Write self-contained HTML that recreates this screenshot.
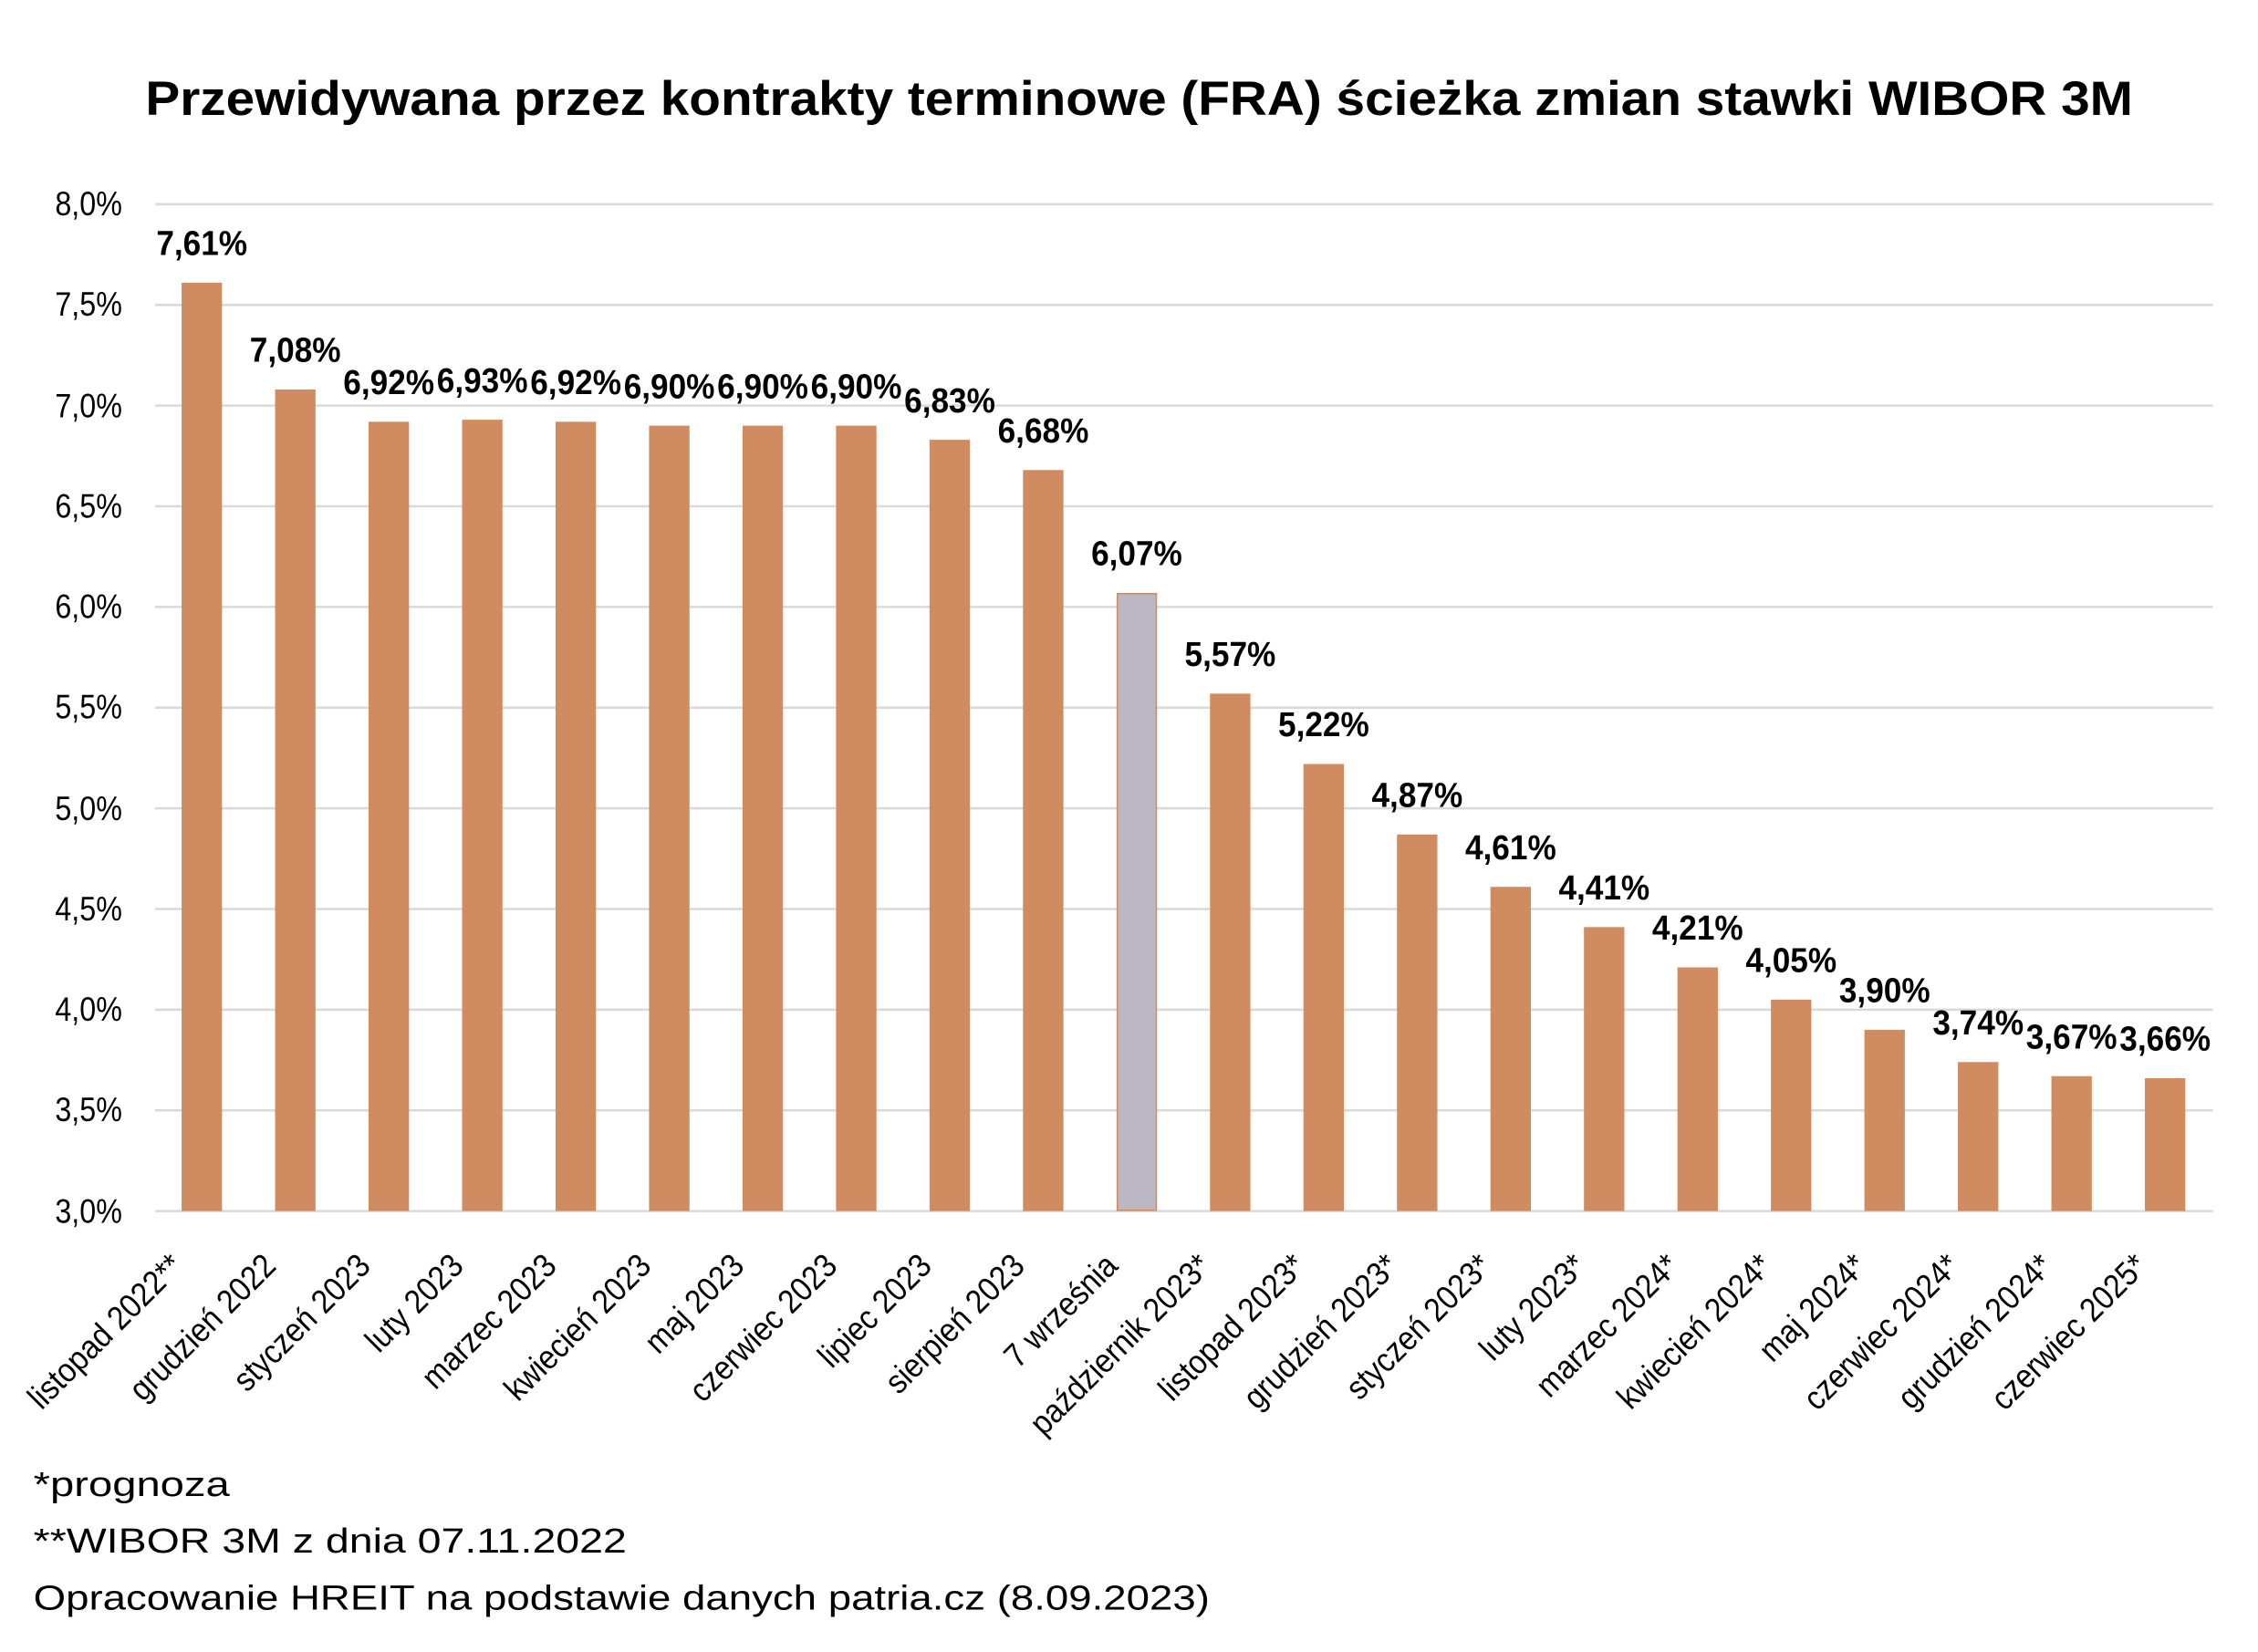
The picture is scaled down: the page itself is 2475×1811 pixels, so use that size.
<!DOCTYPE html>
<html><head><meta charset="utf-8"><style>
html,body{margin:0;padding:0;background:#fff;}
svg{display:block;}
text{font-family:"Liberation Sans","DejaVu Sans",sans-serif;fill:#000;}
.yl{font-size:23px;text-anchor:end;}
.dl{font-size:24px;font-weight:bold;text-anchor:middle;}
.cl{font-size:23px;text-anchor:end;}
.fn{font-size:24px;}
</style></head><body>
<svg width="2475" height="1811" viewBox="0 0 1553 1136.3" preserveAspectRatio="none" xmlns="http://www.w3.org/2000/svg">
<rect width="1553" height="1137" fill="#fff"/>
<text x="100" y="79" font-size="33" font-weight="bold" textLength="1367" lengthAdjust="spacingAndGlyphs">Przewidywana przez kontrakty terminowe (FRA) ścieżka zmian stawki WIBOR 3M</text>
<g stroke="#D9D9D9" stroke-width="1.6">
<line x1="106.6" x2="1522" y1="140.5" y2="140.5"/><line x1="106.6" x2="1522" y1="209.75" y2="209.75"/>
<line x1="106.6" x2="1522" y1="279" y2="279"/><line x1="106.6" x2="1522" y1="348.25" y2="348.25"/>
<line x1="106.6" x2="1522" y1="417.5" y2="417.5"/><line x1="106.6" x2="1522" y1="486.75" y2="486.75"/>
<line x1="106.6" x2="1522" y1="556" y2="556"/><line x1="106.6" x2="1522" y1="625.25" y2="625.25"/>
<line x1="106.6" x2="1522" y1="694.5" y2="694.5"/><line x1="106.6" x2="1522" y1="763.75" y2="763.75"/>
<line x1="106.6" x2="1522" y1="833" y2="833"/>
</g>
<g>
<text class="yl" transform="translate(84,148) scale(0.88,1)">8,0%</text>
<text class="yl" transform="translate(84,217) scale(0.88,1)">7,5%</text>
<text class="yl" transform="translate(84,287) scale(0.88,1)">7,0%</text>
<text class="yl" transform="translate(84,356) scale(0.88,1)">6,5%</text>
<text class="yl" transform="translate(84,425) scale(0.88,1)">6,0%</text>
<text class="yl" transform="translate(84,494) scale(0.88,1)">5,5%</text>
<text class="yl" transform="translate(84,564) scale(0.88,1)">5,0%</text>
<text class="yl" transform="translate(84,633) scale(0.88,1)">4,5%</text>
<text class="yl" transform="translate(84,702) scale(0.88,1)">4,0%</text>
<text class="yl" transform="translate(84,771) scale(0.88,1)">3,5%</text>
<text class="yl" transform="translate(84,841) scale(0.88,1)">3,0%</text>
</g>
<g fill="#D08C60">
<rect x="124.9" y="194.5" width="27.8" height="638.5"/>
<rect x="189.2" y="267.9" width="27.8" height="565.1"/>
<rect x="253.5" y="290.1" width="27.8" height="542.9"/>
<rect x="317.8" y="288.7" width="27.8" height="544.3"/>
<rect x="382.1" y="290.1" width="27.8" height="542.9"/>
<rect x="446.4" y="292.8" width="27.8" height="540.2"/>
<rect x="510.7" y="292.8" width="27.8" height="540.2"/>
<rect x="575.0" y="292.8" width="27.8" height="540.2"/>
<rect x="639.3" y="302.5" width="27.8" height="530.5"/>
<rect x="703.6" y="323.3" width="27.8" height="509.7"/>
<rect x="832.2" y="477.1" width="27.8" height="355.9"/>
<rect x="896.5" y="525.5" width="27.8" height="307.5"/>
<rect x="960.8" y="574.0" width="27.8" height="259.0"/>
<rect x="1025.1" y="610.0" width="27.8" height="223.0"/>
<rect x="1089.4" y="637.7" width="27.8" height="195.3"/>
<rect x="1153.7" y="665.4" width="27.8" height="167.6"/>
<rect x="1218.0" y="687.6" width="27.8" height="145.4"/>
<rect x="1282.3" y="708.3" width="27.8" height="124.7"/>
<rect x="1346.6" y="730.5" width="27.8" height="102.5"/>
<rect x="1410.9" y="740.2" width="27.8" height="92.8"/>
<rect x="1475.2" y="741.6" width="27.8" height="91.4"/>
</g>
<rect x="768.5" y="408.3" width="26.8" height="424.2" fill="#BCB8C3" stroke="#D08C60" stroke-width="1"/>
<g>
<text class="dl" transform="translate(138.8,175.5) scale(0.92,1)">7,61%</text>
<text class="dl" transform="translate(203.1,248.9) scale(0.92,1)">7,08%</text>
<text class="dl" transform="translate(267.4,271.1) scale(0.92,1)">6,92%</text>
<text class="dl" transform="translate(331.7,269.7) scale(0.92,1)">6,93%</text>
<text class="dl" transform="translate(396.0,271.1) scale(0.92,1)">6,92%</text>
<text class="dl" transform="translate(460.3,273.8) scale(0.92,1)">6,90%</text>
<text class="dl" transform="translate(524.6,273.8) scale(0.92,1)">6,90%</text>
<text class="dl" transform="translate(588.9,273.8) scale(0.92,1)">6,90%</text>
<text class="dl" transform="translate(653.2,283.5) scale(0.92,1)">6,83%</text>
<text class="dl" transform="translate(717.5,304.3) scale(0.92,1)">6,68%</text>
<text class="dl" transform="translate(781.8,388.8) scale(0.92,1)">6,07%</text>
<text class="dl" transform="translate(846.1,458.1) scale(0.92,1)">5,57%</text>
<text class="dl" transform="translate(910.4,506.5) scale(0.92,1)">5,22%</text>
<text class="dl" transform="translate(974.7,555.0) scale(0.92,1)">4,87%</text>
<text class="dl" transform="translate(1039.0,591.0) scale(0.92,1)">4,61%</text>
<text class="dl" transform="translate(1103.3,618.7) scale(0.92,1)">4,41%</text>
<text class="dl" transform="translate(1167.6,646.4) scale(0.92,1)">4,21%</text>
<text class="dl" transform="translate(1231.9,668.6) scale(0.92,1)">4,05%</text>
<text class="dl" transform="translate(1296.2,689.3) scale(0.92,1)">3,90%</text>
<text class="dl" transform="translate(1360.5,711.5) scale(0.92,1)">3,74%</text>
<text class="dl" transform="translate(1424.8,721.2) scale(0.92,1)">3,67%</text>
<text class="dl" transform="translate(1489.1,722.6) scale(0.92,1)">3,66%</text>
</g>
<g>
<text class="cl" transform="translate(127,872) rotate(-45) scale(0.9,1)">listopad 2022**</text>
<text class="cl" transform="translate(191,872) rotate(-45) scale(0.9,1)">grudzień 2022</text>
<text class="cl" transform="translate(256,872) rotate(-45) scale(0.9,1)">styczeń 2023</text>
<text class="cl" transform="translate(320,872) rotate(-45) scale(0.9,1)">luty 2023</text>
<text class="cl" transform="translate(384,872) rotate(-45) scale(0.9,1)">marzec 2023</text>
<text class="cl" transform="translate(449,872) rotate(-45) scale(0.9,1)">kwiecień 2023</text>
<text class="cl" transform="translate(513,872) rotate(-45) scale(0.9,1)">maj 2023</text>
<text class="cl" transform="translate(577,872) rotate(-45) scale(0.9,1)">czerwiec 2023</text>
<text class="cl" transform="translate(642,872) rotate(-45) scale(0.9,1)">lipiec 2023</text>
<text class="cl" transform="translate(706,872) rotate(-45) scale(0.9,1)">sierpień 2023</text>
<text class="cl" transform="translate(770,872) rotate(-45) scale(0.9,1)">7 września</text>
<text class="cl" transform="translate(834,872) rotate(-45) scale(0.9,1)">październik 2023*</text>
<text class="cl" transform="translate(899,872) rotate(-45) scale(0.9,1)">listopad 2023*</text>
<text class="cl" transform="translate(963,872) rotate(-45) scale(0.9,1)">grudzień 2023*</text>
<text class="cl" transform="translate(1027,872) rotate(-45) scale(0.9,1)">styczeń 2023*</text>
<text class="cl" transform="translate(1092,872) rotate(-45) scale(0.9,1)">luty 2023*</text>
<text class="cl" transform="translate(1156,872) rotate(-45) scale(0.9,1)">marzec 2024*</text>
<text class="cl" transform="translate(1220,872) rotate(-45) scale(0.9,1)">kwiecień 2024*</text>
<text class="cl" transform="translate(1285,872) rotate(-45) scale(0.9,1)">maj 2024*</text>
<text class="cl" transform="translate(1349,872) rotate(-45) scale(0.9,1)">czerwiec 2024*</text>
<text class="cl" transform="translate(1413,872) rotate(-45) scale(0.9,1)">grudzień 2024*</text>
<text class="cl" transform="translate(1478,872) rotate(-45) scale(0.9,1)">czerwiec 2025*</text>
</g>
<text class="fn" x="23" y="1029" textLength="135" lengthAdjust="spacingAndGlyphs">*prognoza</text>
<text class="fn" x="23" y="1068" textLength="408" lengthAdjust="spacingAndGlyphs">**WIBOR 3M z dnia 07.11.2022</text>
<text class="fn" x="23" y="1107" textLength="809" lengthAdjust="spacingAndGlyphs">Opracowanie HREIT na podstawie danych patria.cz (8.09.2023)</text>
</svg>
</body></html>
